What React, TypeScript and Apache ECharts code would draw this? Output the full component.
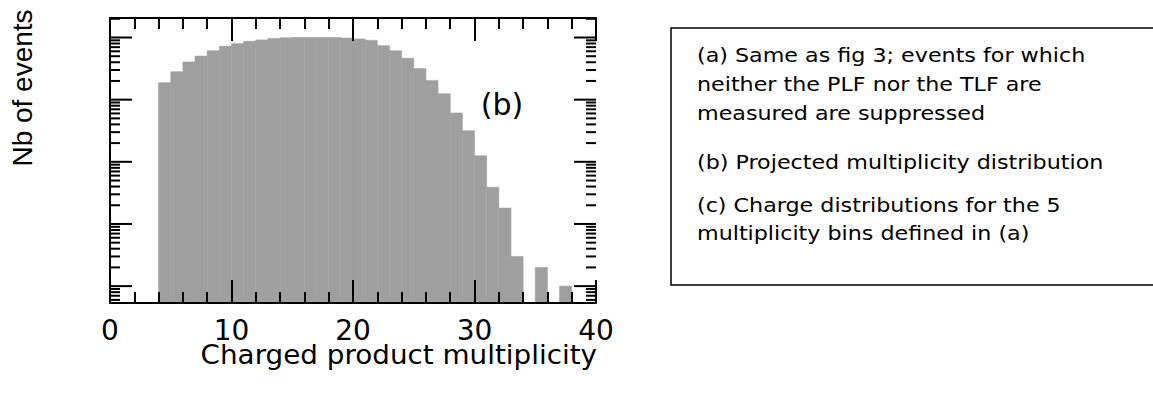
import React, { useEffect, useRef } from "react";
import * as echarts from "echarts";

// ---- data ----
const binStarts = [4, 5, 6, 7, 8, 9, 10, 11, 12, 13, 14, 15, 16, 17, 18, 19, 20, 21, 22, 23, 24, 25, 26, 27, 28, 29, 30, 31, 32, 33, 35, 37];
const counts = [1875, 2810, 4040, 5020, 6110, 7200, 7950, 8670, 9160, 9680, 9900, 10000, 10000, 10000, 10000, 9800, 9500, 9000, 7400, 6100, 4640, 3160, 2040, 1245, 610, 316, 125, 39, 18, 3, 2, 1];
const yMin = 0.535;
const yMax = 20600;
const yDecades = [0.1, 1, 10, 100, 1000, 10000];
const yMinorMultipliers = [2, 3, 4, 5, 6, 7, 8, 9];
const xMin = 0;
const xMax = 40;
const xTitle = "Charged product multiplicity";
const yTitle = "Nb of events";
const panelLabel = "(b)";
const noteLines = [
  "(a) Same as fig 3; events for which",
  "neither the PLF nor the TLF are",
  "measured are suppressed",
  "(b) Projected multiplicity distribution",
  "(c) Charge distributions for the 5",
  "multiplicity bins defined in (a)",
];
const noteY = [56, 85, 114, 163, 206, 234];

export default function App() {
  const ref = useRef<HTMLDivElement>(null);
  useEffect(() => {
    document.body.style.margin = "0";
    const chart = echarts.init(ref.current!, null, { renderer: "svg" });

    const yTicks: [number, number][] = [];
    yDecades.forEach((d) => {
      if (d >= yMin && d <= yMax) yTicks.push([d, 1]);
      yMinorMultipliers.forEach((m) => {
        const v = d * m;
        if (v >= yMin && v <= yMax) yTicks.push([v, 0]);
      });
    });

    const xAxisBase = {
      type: "value",
      min: xMin,
      max: xMax,
      interval: 10,
      z: 5,
      splitLine: { show: false },
      axisLine: { show: true, lineStyle: { color: "#000", width: 2 } },
      axisTick: { show: true, inside: true, length: 23, lineStyle: { color: "#000", width: 2 } },
      minorTick: { show: true, splitNumber: 5, length: 11, lineStyle: { color: "#000", width: 2 } },
    };
    const yAxisBase = {
      type: "log",
      logBase: 10,
      min: yMin,
      max: yMax,
      z: 5,
      splitLine: { show: false },
      axisLine: { show: true, lineStyle: { color: "#000", width: 2 } },
      axisTick: { show: false },
      axisLabel: { show: false },
    };

    chart.setOption({
      animation: false,
      grid: { left: 110, top: 18, width: 486, height: 285 },
      xAxis: [
        {
          ...xAxisBase,
          position: "bottom",
          axisLabel: { show: true, color: "#000", fontSize: 28, fontFamily: "DejaVu Sans", margin: 13 },
        },
        { ...xAxisBase, position: "top", axisLabel: { show: false } },
      ],
      yAxis: [
        { ...yAxisBase, position: "left" },
        { ...yAxisBase, position: "right" },
      ],
      series: [
        {
          type: "custom",
          z: 1,
          xAxisIndex: 0,
          yAxisIndex: 0,
          data: binStarts.map((x, i) => [x, counts[i]]),
          renderItem: (params: any, api: any) => {
            const x0 = api.value(0);
            const v = api.value(1);
            const p1 = api.coord([x0, v]);
            const p2 = api.coord([x0 + 1, yMin]);
            return {
              type: "rect",
              shape: { x: p1[0], y: p1[1], width: p2[0] - p1[0], height: p2[1] - p1[1] },
              style: { fill: "#9f9f9f", stroke: "#9f9f9f", lineWidth: 0.6 },
            };
          },
        },
        {
          type: "custom",
          z: 6,
          xAxisIndex: 0,
          yAxisIndex: 0,
          data: yTicks,
          renderItem: (params: any, api: any) => {
            const v = api.value(0);
            const major = api.value(1) === 1;
            const len = major ? 22 : 10;
            const pl = api.coord([xMin, v]);
            const pr = api.coord([xMax, v]);
            return {
              type: "group",
              children: [
                { type: "line", shape: { x1: pl[0], y1: pl[1], x2: pl[0] + len, y2: pl[1] }, style: { stroke: "#000", lineWidth: 2 } },
                { type: "line", shape: { x1: pr[0], y1: pr[1], x2: pr[0] - len, y2: pr[1] }, style: { stroke: "#000", lineWidth: 2 } },
              ],
            };
          },
        },
      ],
      graphic: [
        {
          type: "text",
          x: 22,
          y: 88,
          rotation: Math.PI / 2,
          style: { text: yTitle, fontSize: 28, fontFamily: "Liberation Sans", fill: "#000", align: "center", verticalAlign: "middle" },
        },
        {
          type: "text",
          x: 597,
          y: 355,
          scaleX: 1.03,
          style: { text: xTitle, fontSize: 27, fontFamily: "DejaVu Sans", fill: "#000", align: "right", verticalAlign: "middle" },
        },
        {
          type: "text",
          x: 502,
          y: 104,
          style: { text: panelLabel, fontSize: 30, fontFamily: "DejaVu Sans", fill: "#000", align: "center", verticalAlign: "middle" },
        },
        {
          type: "rect",
          shape: { x: 671, y: 28, width: 520, height: 257 },
          style: { fill: "none", stroke: "#000", lineWidth: 1.5 },
        },
        ...noteLines.map((t, i) => ({
          type: "text",
          x: 697,
          y: noteY[i],
          scaleX: 1.17,
          style: { text: t, fontSize: 19, fontFamily: "DejaVu Sans", fill: "#000", align: "left", verticalAlign: "middle" },
        })),
      ],
    });
    return () => chart.dispose();
  }, []);
  return <div ref={ref} style={{ position: "fixed", left: 0, top: 0, width: 1153, height: 405, background: "#fff" }} />;
}
